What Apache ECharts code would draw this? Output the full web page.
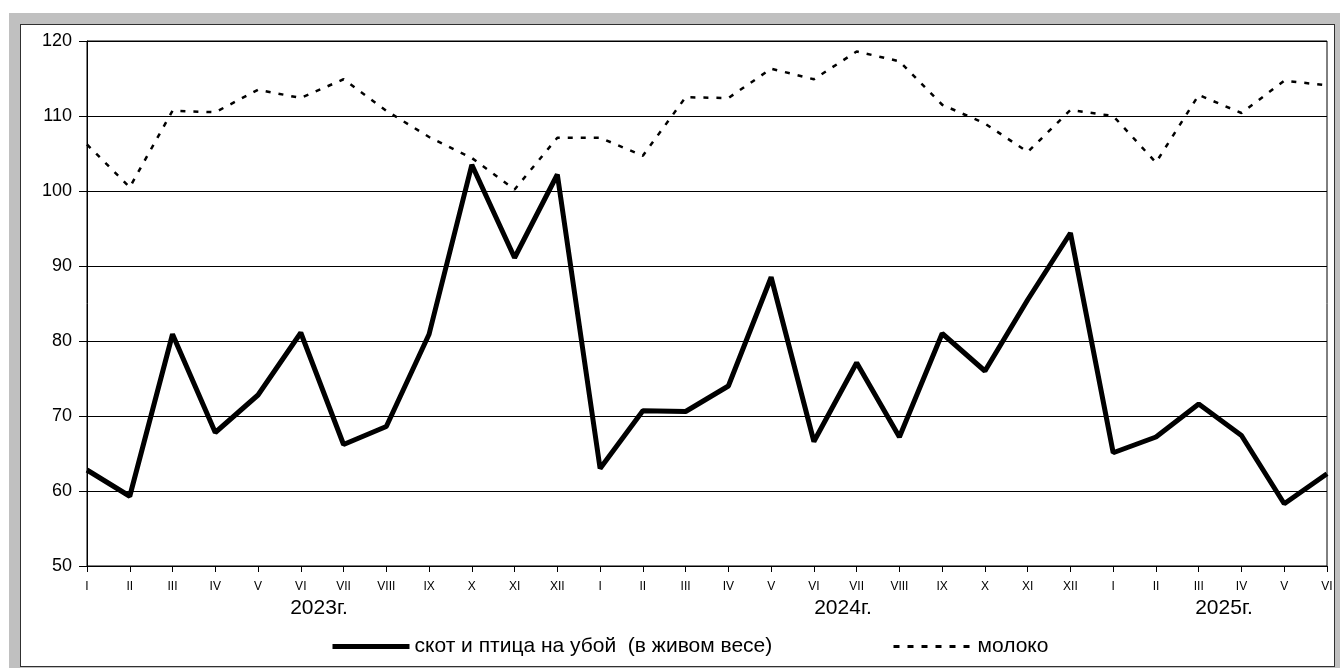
<!DOCTYPE html>
<html>
<head>
<meta charset="utf-8">
<script src="https://cdn.jsdelivr.net/npm/echarts@6/dist/echarts.min.js"></script>
<style>
  html, body { margin: 0; padding: 0; background: #ffffff; }
  #frame { position: absolute; left: 9px; top: 13px; width: 1331px; height: 655px; background: #c0c0c0; }
  #panel { position: absolute; left: 20px; top: 24px; width: 1313px; height: 641px; background: #ffffff; border: 1px solid #303030; }
  #chart { position: absolute; left: 0; top: 0; width: 1340px; height: 668px; }
</style>
</head>
<body>
<div id="frame"></div>
<div id="panel"></div>
<div id="chart"></div>
<script>
const monthLabels = ['I','II','III','IV','V','VI','VII','VIII','IX','X','XI','XII',
                     'I','II','III','IV','V','VI','VII','VIII','IX','X','XI','XII',
                     'I','II','III','IV','V','VI'];
const yearLabels = ['2023г.', '2024г.', '2025г.'];
const seriesNames = ['скот и птица на убой  (в живом весе)', 'молоко'];
const livestock = [62.8, 59.3, 80.9, 67.8, 72.8, 81.1, 66.2, 68.6, 80.9, 103.5, 91.1, 102.2,
                   63.0, 70.7, 70.6, 74.0, 88.5, 66.6, 77.1, 67.2, 81.0, 76.0, 85.5, 94.4,
                   65.1, 67.2, 71.6, 67.4, 58.3, 62.3];
const milk = [106.2, 100.5, 110.7, 110.5, 113.5, 112.4, 114.9, 110.7, 107.2, 104.4, 100.2, 107.1,
              107.1, 104.7, 112.5, 112.4, 116.3, 114.9, 118.6, 117.3, 111.5, 109.0, 105.2, 110.8,
              110.0, 103.8, 112.8, 110.4, 114.7, 114.1];

const FONT = 'Arial, "Liberation Sans", sans-serif';
const chart = echarts.init(document.getElementById('chart'), null, { renderer: 'canvas' });
const hiddenSymbol = { color: 'rgba(0,0,0,0)', borderWidth: 0, opacity: 0 };
const legendText = { fontSize: 21, color: '#000', fontFamily: FONT };
const option = {
  backgroundColor: 'transparent',
  animation: false,
  grid: { left: 87, right: 13, top: 41, bottom: 102, show: true, borderColor: '#000', borderWidth: 1, backgroundColor: 'transparent' },
  xAxis: {
    type: 'category',
    data: monthLabels,
    boundaryGap: false,
    axisLine: { lineStyle: { color: '#000', width: 1 } },
    axisTick: { show: true, length: 6, interval: 0, lineStyle: { color: '#000' } },
    axisLabel: { interval: 0, fontSize: 12, color: '#000', fontFamily: FONT, margin: 15 },
    splitLine: { show: false }
  },
  yAxis: {
    type: 'value',
    min: 50, max: 120, interval: 10,
    axisLine: { show: true, lineStyle: { color: '#000', width: 1 } },
    axisTick: { show: true, length: 8, lineStyle: { color: '#000' } },
    axisLabel: { fontSize: 18, color: '#000', fontFamily: FONT, margin: 15 },
    splitLine: { show: true, lineStyle: { color: '#000', width: 1 } }
  },
  legend: [
    {
      left: 325, top: 631, itemWidth: 77, itemHeight: 14,
      textStyle: legendText, itemStyle: hiddenSymbol,
      data: [{ name: seriesNames[0], lineStyle: { width: 5, color: '#000' }, itemStyle: hiddenSymbol }]
    },
    {
      left: 887, top: 631, itemWidth: 79, itemHeight: 14,
      textStyle: legendText, itemStyle: hiddenSymbol,
      data: [{ name: seriesNames[1], lineStyle: { width: 3, color: '#000', type: [6, 8] }, itemStyle: hiddenSymbol }]
    }
  ],
  series: [
    { name: seriesNames[0], type: 'line', data: livestock, symbol: 'none',
      lineStyle: { color: '#000', width: 5 }, itemStyle: { color: '#000' }, z: 3 },
    { name: seriesNames[1], type: 'line', data: milk, symbol: 'none',
      lineStyle: { color: '#000', width: 2.5, type: [5, 8] }, itemStyle: { color: '#000' }, z: 2 }
  ],
  graphic: [
    { type: 'text', x: 319, y: 598, style: { text: yearLabels[0], fontSize: 21, fill: '#000', fontFamily: FONT, textAlign: 'center', textVerticalAlign: 'top' } },
    { type: 'text', x: 843, y: 598, style: { text: yearLabels[1], fontSize: 21, fill: '#000', fontFamily: FONT, textAlign: 'center', textVerticalAlign: 'top' } },
    { type: 'text', x: 1224, y: 598, style: { text: yearLabels[2], fontSize: 21, fill: '#000', fontFamily: FONT, textAlign: 'center', textVerticalAlign: 'top' } }
  ]
};
chart.setOption(option);
</script>
</body>
</html>
